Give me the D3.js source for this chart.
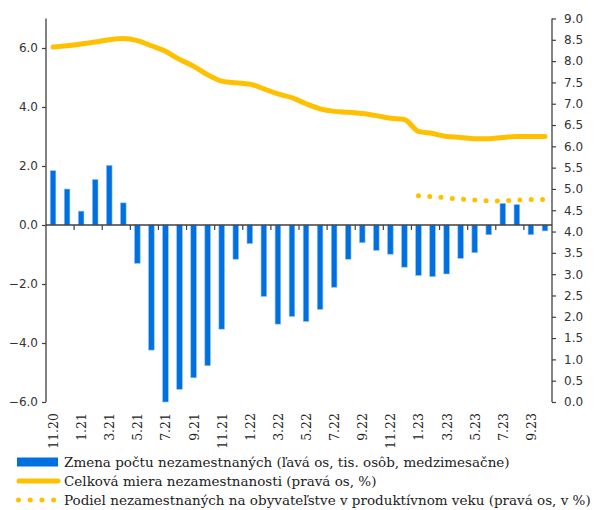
<!DOCTYPE html>
<html>
<head>
<meta charset="utf-8">
<script src="https://cdn.jsdelivr.net/npm/d3@7"></script>
<style>
  body { margin: 0; background: #fff; }
  svg { display: block; }
</style>
</head>
<body>
<div id="chart"></div>
<script>
// months 11.20 .. 10.23
const months = ["11.20","12.20","1.21","2.21","3.21","4.21","5.21","6.21","7.21","8.21","9.21","10.21",
  "11.21","12.21","1.22","2.22","3.22","4.22","5.22","6.22","7.22","8.22","9.22","10.22",
  "11.22","12.22","1.23","2.23","3.23","4.23","5.23","6.23","7.23","8.23","9.23","10.23"];

// change in number of unemployed (left axis, thousands)
const zmena = [1.84, 1.22, 0.47, 1.54, 2.02, 0.75, -1.30, -4.24, -6.00, -5.57, -5.18, -4.77,
  -3.53, -1.16, -0.63, -2.42, -3.36, -3.10, -3.27, -2.86, -2.11, -1.16, -0.60, -0.86,
  -0.99, -1.43, -1.71, -1.75, -1.66, -1.13, -0.94, -0.33, 0.73, 0.69, -0.33, -0.20];

// total unemployment rate (right axis, %)
const miera = [8.33, 8.36, 8.40, 8.45, 8.50, 8.53, 8.48, 8.36, 8.23, 8.04, 7.88, 7.68,
  7.53, 7.49, 7.46, 7.35, 7.23, 7.14, 7.00, 6.88, 6.82, 6.80, 6.77, 6.72,
  6.66, 6.63, 6.35, 6.30, 6.23, 6.21, 6.18, 6.18, 6.21, 6.23, 6.23, 6.23];

// share of unemployed in working-age population (right axis, %), from 1.23
const podiel = [null, null, null, null, null, null, null, null, null, null, null, null,
  null, null, null, null, null, null, null, null, null, null, null, null,
  null, null, 4.84, 4.82, 4.79, 4.76, 4.74, 4.72, 4.72, 4.74, 4.75, 4.75];

const leftTicks = [-6, -4, -2, 0, 2, 4, 6];
const rightTicks = d3.range(0, 9.01, 0.5);

const legendLabels = [
  "Zmena počtu nezamestnaných (ľavá os, tis. osôb, medzimesačne)",
  "Celková miera nezamestnanosti (pravá os, %)",
  "Podiel nezamestnaných na obyvateľstve v produktívnom veku (pravá os, v %)"
];

const W = 598, H = 510;
const blue = "#0070e0", gold = "#ffc000", axisCol = "#404040";
const plot = {left: 46, right: 552, top: 18.5, bottom: 402};

const svg = d3.select("#chart").append("svg")
  .attr("width", W).attr("height", H);

const x = d3.scaleBand().domain(months).range([plot.left, plot.right]).paddingInner(0.6).paddingOuter(0.3);
const xc = i => x(months[i]) + x.bandwidth() / 2;
const yL = d3.scaleLinear().domain([-6, 7]).range([plot.bottom, plot.top]);
const yR = d3.scaleLinear().domain([0, 9]).range([plot.bottom, plot.top]);

// bars
svg.append("g").selectAll("rect")
  .data(zmena)
  .join("rect")
  .attr("x", (d, i) => x(months[i]))
  .attr("width", x.bandwidth())
  .attr("y", d => yL(Math.max(0, d)))
  .attr("height", d => Math.abs(yL(d) - yL(0)))
  .attr("fill", blue)
  .attr("stroke", "#8ec0f2")
  .attr("stroke-width", 0.6);

// x axis line at zero
const x0 = yL(0);
svg.append("line")
  .attr("x1", plot.left).attr("x2", plot.right)
  .attr("y1", x0).attr("y2", x0)
  .attr("stroke", axisCol).attr("stroke-width", 1.3);

// x ticks every two months, on band boundaries
svg.append("g").selectAll("line")
  .data(d3.range(2, months.length, 2))
  .join("line")
  .attr("x1", k => plot.left + k * (plot.right - plot.left) / months.length)
  .attr("x2", k => plot.left + k * (plot.right - plot.left) / months.length)
  .attr("y1", x0).attr("y2", x0 + 5)
  .attr("stroke", axisCol).attr("stroke-width", 1.2);

// x labels
svg.append("g").selectAll("text")
  .data(months.filter((m, i) => i % 2 === 0 && i < 35))
  .join("text")
  .attr("transform", d => `translate(${x(d) + x.bandwidth() / 2 + 5},413) rotate(-90)`)
  .attr("text-anchor", "end")
  .attr("font-family", "DejaVu Serif")
  .attr("font-size", 12.5)
  .attr("fill", "#222")
  .text(d => d);

// left axis
const leftAxis = d3.axisLeft(yL).tickValues(leftTicks).tickSize(4).tickFormat(d3.format(".1f"));
const gL = svg.append("g").attr("transform", `translate(${plot.left},0)`).call(leftAxis);
gL.select(".domain").attr("stroke", axisCol).attr("stroke-width", 1.3).attr("d", `M0,${plot.top}V${plot.bottom}`);
gL.selectAll(".tick line").attr("stroke", axisCol).attr("stroke-width", 1.2);
gL.selectAll(".tick text").attr("font-family", "DejaVu Sans").attr("font-size", 12).attr("fill", "#333").attr("x", -8);

// right axis
const rightAxis = d3.axisRight(yR).tickValues(rightTicks).tickSize(4).tickFormat(d3.format(".1f"));
const gR = svg.append("g").attr("transform", `translate(${plot.right},0)`).call(rightAxis);
gR.select(".domain").attr("stroke", axisCol).attr("stroke-width", 1.3).attr("d", `M0,${plot.top}V${plot.bottom}`);
gR.selectAll(".tick line").attr("stroke", axisCol).attr("stroke-width", 1.2);
gR.selectAll(".tick text").attr("font-family", "DejaVu Sans").attr("font-size", 12).attr("fill", "#333").attr("x", 12);

// unemployment rate line
const line = d3.line()
  .defined(d => d != null)
  .x((d, i) => xc(i))
  .y(d => yR(d))
  .curve(d3.curveMonotoneX);

svg.append("path")
  .datum(miera)
  .attr("d", line)
  .attr("fill", "none")
  .attr("stroke", gold)
  .attr("stroke-width", 5)
  .attr("stroke-linecap", "round");

// working-age share, dotted
svg.append("path")
  .datum(podiel)
  .attr("d", line)
  .attr("fill", "none")
  .attr("stroke", gold)
  .attr("stroke-width", 5)
  .attr("stroke-linecap", "round")
  .attr("stroke-dasharray", "0,11.3");

// legend
const leg = svg.append("g");
const rowY = [462, 481, 500];
leg.append("rect").attr("x", 17).attr("y", rowY[0] - 4.5).attr("width", 41).attr("height", 9).attr("fill", blue);
leg.append("line").attr("x1", 19).attr("x2", 58).attr("y1", rowY[1]).attr("y2", rowY[1])
  .attr("stroke", gold).attr("stroke-width", 5).attr("stroke-linecap", "round");
leg.append("line").attr("x1", 18.5).attr("x2", 60).attr("y1", rowY[2]).attr("y2", rowY[2])
  .attr("stroke", gold).attr("stroke-width", 5).attr("stroke-linecap", "round").attr("stroke-dasharray", "0,11.7");

leg.selectAll("text")
  .data(legendLabels)
  .join("text")
  .attr("x", 64)
  .attr("y", (d, i) => rowY[i] + 5)
  .attr("font-family", "DejaVu Serif")
  .attr("font-size", 13.5)
  .attr("fill", "#222")
  .text(d => d);
</script>
</body>
</html>
